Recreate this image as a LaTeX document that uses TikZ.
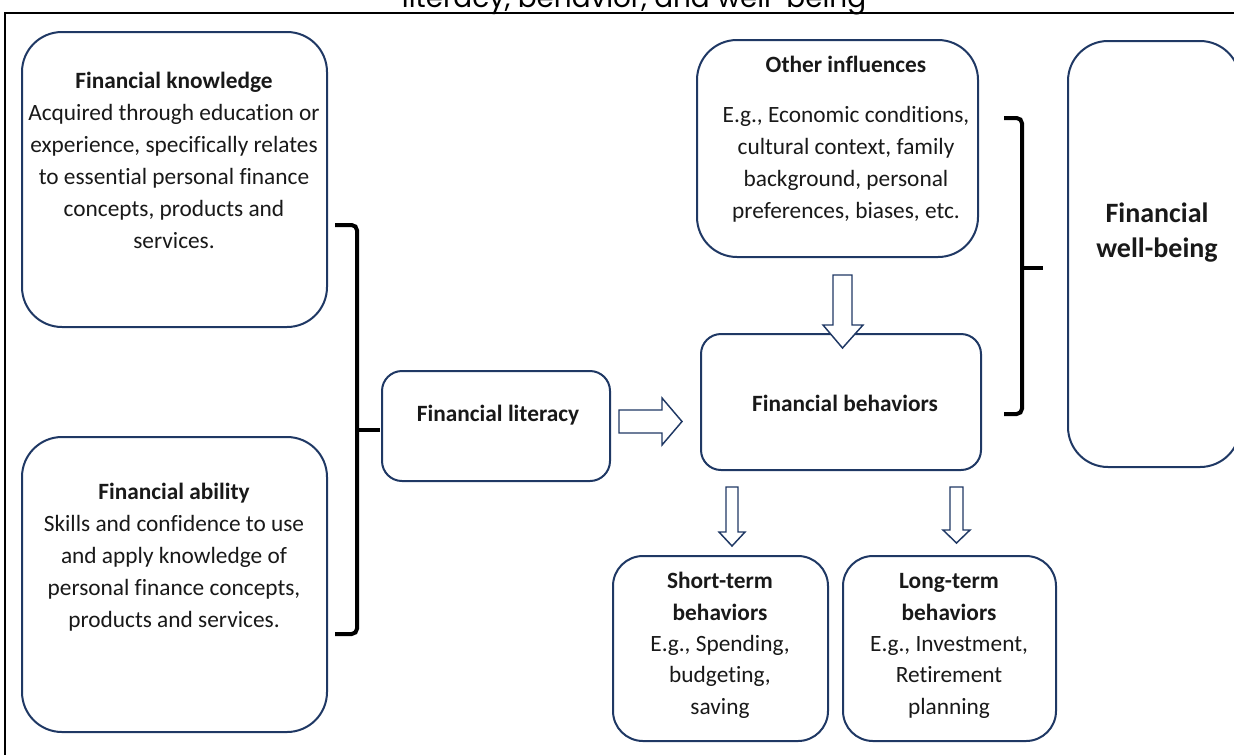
\documentclass[tikz,border=0pt]{standalone}
\usepackage{fontspec}
\setmainfont{Carlito}[Ligatures=NoCommon]
\newfontfamily\titlefont{Poppins}
\definecolor{navy}{RGB}{31,56,100}
\begin{document}
\begin{tikzpicture}[x=0.75pt,y=-0.75pt,
 box/.style={draw=navy, line width=1.5pt, fill=white},
 txt/.style={align=center, inner sep=0pt, anchor=base, text=black!90, font=\fontsize{17.5}{24}\selectfont},
 blockarrow/.style={draw=navy, line width=1.1pt, fill=white, line join=miter},
 brace/.style={line width=3pt, rounded corners=4pt}]
\useasboundingbox (0,0) rectangle (1234,754);
\draw[line width=1.6pt] (5,760) -- (5,13) -- (1240,13);
\node[font=\titlefont\fontsize{20.9}{24}\selectfont, anchor=base, inner sep=0pt] (title) at (634,7) {literacy, behavior, and well-being};

% boxes
\node[box, rounded corners=30pt, minimum width=228.75pt, minimum height=221.25pt] (know) at (174.5,179.5) {};
\node[box, rounded corners=30pt, minimum width=228.75pt, minimum height=221.25pt] (abil) at (174.5,584.5) {};
\node[box, rounded corners=15pt, minimum width=171pt, minimum height=82.5pt] (lit) at (496,426) {};
\node[box, rounded corners=30pt, minimum width=210.75pt, minimum height=162.75pt] (other) at (837.5,148.5) {};
\node[box, rounded corners=15pt, minimum width=210pt, minimum height=102pt] (behav) at (841,402) {};
\node[box, rounded corners=30pt, minimum width=129pt, minimum height=319.5pt] (well) at (1154,254) {};
\node[box, rounded corners=22.5pt, minimum width=161.25pt, minimum height=138.75pt] (short) at (720.5,648.5) {};
\node[box, rounded corners=22.5pt, minimum width=159.75pt, minimum height=138.75pt] (long) at (949.5,648.5) {};

% texts (anchor base = baseline of the last line)
\node[txt] (knowT) at (174,248) {\textbf{Financial knowledge}\\Acquired through education or\\experience, specifically relates\\to essential personal finance\\concepts, products and\\services.};
\node[txt] (abilT) at (174,627) {\textbf{Financial ability}\\Skills and confidence to use\\and apply knowledge of\\personal finance concepts,\\products and services.};
\node[txt] (litT) at (498,421) {\textbf{Financial literacy}};
\node[txt] (otherT) at (846,218) {\textbf{Other influences}\\[13.5pt]E.g., Economic conditions,\\cultural context, family\\background, personal\\preferences, biases, etc.};
\node[txt] (behavT) at (845,411) {\textbf{Financial behaviors}};
\node[txt, font=\fontsize{21}{26}\selectfont] (wellT) at (1157,257) {\textbf{Financial}\\\textbf{well-being}};
\node[txt, font=\fontsize{17.5}{23.5}\selectfont] (shortT) at (720,714) {\textbf{Short-term}\\\textbf{behaviors}\\E.g., Spending,\\budgeting,\\saving};
\node[txt, font=\fontsize{17.5}{23.5}\selectfont] (longT) at (949,714) {\textbf{Long-term}\\\textbf{behaviors}\\E.g., Investment,\\Retirement\\planning};

% braces
\coordinate (lbT) at (335,225);
\coordinate (lbB) at (335,634);
\coordinate (lbM) at (357,430);
\draw[brace] (lbT) -- (357,225) -- (357,634) -- (lbB);
\draw[line width=3pt] (lbM) -- (380,430);
\coordinate (rbT) at (1004,118);
\coordinate (rbB) at (1004,414);
\coordinate (rbM) at (1022,268);
\draw[brace] (rbT) -- (1022,118) -- (1022,414) -- (rbB);
\draw[line width=3pt] (rbM) -- (1043,268);

% block arrows
\draw[blockarrow] (619,410) -- (662,410) -- (662,398) -- (682,421.5) -- (662,445) -- (662,433) -- (619,433) -- cycle;
\draw[blockarrow] (833,275) -- (852,275) -- (852,325) -- (863,325) -- (842.5,348) -- (823,325) -- (833,325) -- cycle;
\draw[blockarrow] (726,487) -- (738,487) -- (738,532) -- (745,532) -- (732,546) -- (719,532) -- (726,532) -- cycle;
\draw[blockarrow] (950,487) -- (963,487) -- (963,530) -- (970,530) -- (956.5,543) -- (943,530) -- (950,530) -- cycle;
\end{tikzpicture}
\end{document}
